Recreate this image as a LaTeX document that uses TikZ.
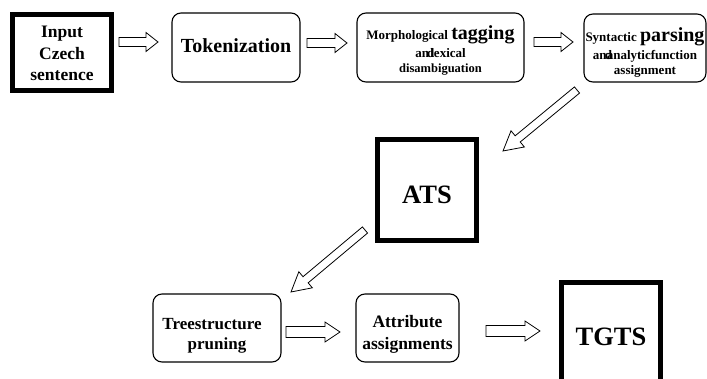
\documentclass[tikz,border=0pt]{standalone}
\usepackage{fontspec}
\setmainfont{Liberation Serif}
\usetikzlibrary{calc}
\newcommand\fs[2]{\bfseries\fontsize{#1}{#2}\selectfont}
\newcommand\lowered[2]{\raisebox{-#1pt}[\height][\depth]{\begin{tabular}{@{}c@{}}#2\end{tabular}}}
\tikzset{
  thickbox/.style={draw, line width=5pt, inner sep=0pt},
  rbox/.style={draw, rounded corners=9pt, line width=1.1pt, inner sep=0pt},
  barrow/.style={draw, line width=0.8pt, fill=white, line join=miter}
}
\newcommand\blockarrow[5]{%
  \draw[barrow] let \p1=(#1), \p2=(#2),
    \n1={atan2(\y2-\y1,\x2-\x1)}, \n2={veclen(\x2-\x1,\y2-\y1)} in
    [shift={(\p1)}, rotate=\n1]
    (0pt,-#3pt) -- ({\n2*1pt-#5pt},-#3pt) -- ({\n2*1pt-#5pt},-#4pt) -- ({\n2*1pt},0pt)
    -- ({\n2*1pt-#5pt},#4pt) -- ({\n2*1pt-#5pt},#3pt) -- (0pt,#3pt) -- cycle;}
\begin{document}
\begin{tikzpicture}[x=1pt,y=-1pt]
\path[use as bounding box, clip] (0,0) rectangle (707,379);
\fill[white] (0,0) rectangle (707,379);
% top row
\node[thickbox, minimum width=99pt, minimum height=76pt, font=\fs{17.5}{21.5}] (inp) at (62,52.5)
  {\lowered{2.7}{Input\\Czech\\sentence}};
\node[rbox, minimum width=128pt, minimum height=69pt, font=\fs{20}{24}] (tok) at (236,47.5)
  {\lowered{0}{Tokenization}};
\node[rbox, minimum width=167pt, minimum height=69pt, font=\fs{13}{15.5}] (mor) at (440.5,47.5)
  {\lowered{5.2}{Morphological \smash{\fontsize{20}{20}\selectfont tagging}\\[2.5pt]
   an\kern-.15em d\kern-.3em lexical\\ {\fontsize{12.5}{15}\selectfont disambiguation}}};
\node[rbox, minimum width=122pt, minimum height=68pt, font=\fs{13}{15}] (syn) at (645,48)
  {\lowered{7.5}{Syntactic \smash{\fontsize{20}{20}\selectfont parsing}\\[3pt]
   an\kern-.15em d\kern-.4em analyticfunction\\ assignment}};
% middle
\node[thickbox, minimum width=99pt, minimum height=101pt, font=\fs{26.5}{30}] (ats) at (427,190)
  {\lowered{7.5}{ATS}};
% bottom row
\node[rbox, minimum width=128pt, minimum height=68pt, font=\fs{17}{20.5}] (tree) at (217,328)
  {\lowered{7.4}{Treestructure\kern10pt\\pruning}};
\node[rbox, minimum width=103pt, minimum height=68pt, font=\fs{17.5}{22}] (attr) at (407.5,328)
  {\lowered{6.6}{Attribute\\assignments}};
\node[thickbox, minimum width=99pt, minimum height=107pt, font=\fs{26.5}{30}] (tgts) at (611,336)
  {\lowered{3}{TGTS}};
% arrow end points
\coordinate (a1s) at (119,42);  \coordinate (a1e) at (158,42);
\coordinate (a2s) at (307,43);  \coordinate (a2e) at (347,43);
\coordinate (a3s) at (534,42);  \coordinate (a3e) at (573,42);
\coordinate (d1s) at (577,90);  \coordinate (d1e) at (503,151);
\coordinate (d2s) at (365,230); \coordinate (d2e) at (291,292);
\coordinate (b1s) at (286,332); \coordinate (b1e) at (340,332);
\coordinate (b2s) at (486,331); \coordinate (b2e) at (540,331);
\blockarrow{a1s}{a1e}{4.5}{9.5}{12}
\blockarrow{a2s}{a2e}{4.5}{9.5}{12}
\blockarrow{a3s}{a3e}{4.5}{9.5}{12}
\blockarrow{d1s}{d1e}{4}{10.5}{19}
\blockarrow{d2s}{d2e}{4}{10.5}{19}
\blockarrow{b1s}{b1e}{5.5}{10}{15}
\blockarrow{b2s}{b2e}{5.5}{10}{15}
\end{tikzpicture}
\end{document}
